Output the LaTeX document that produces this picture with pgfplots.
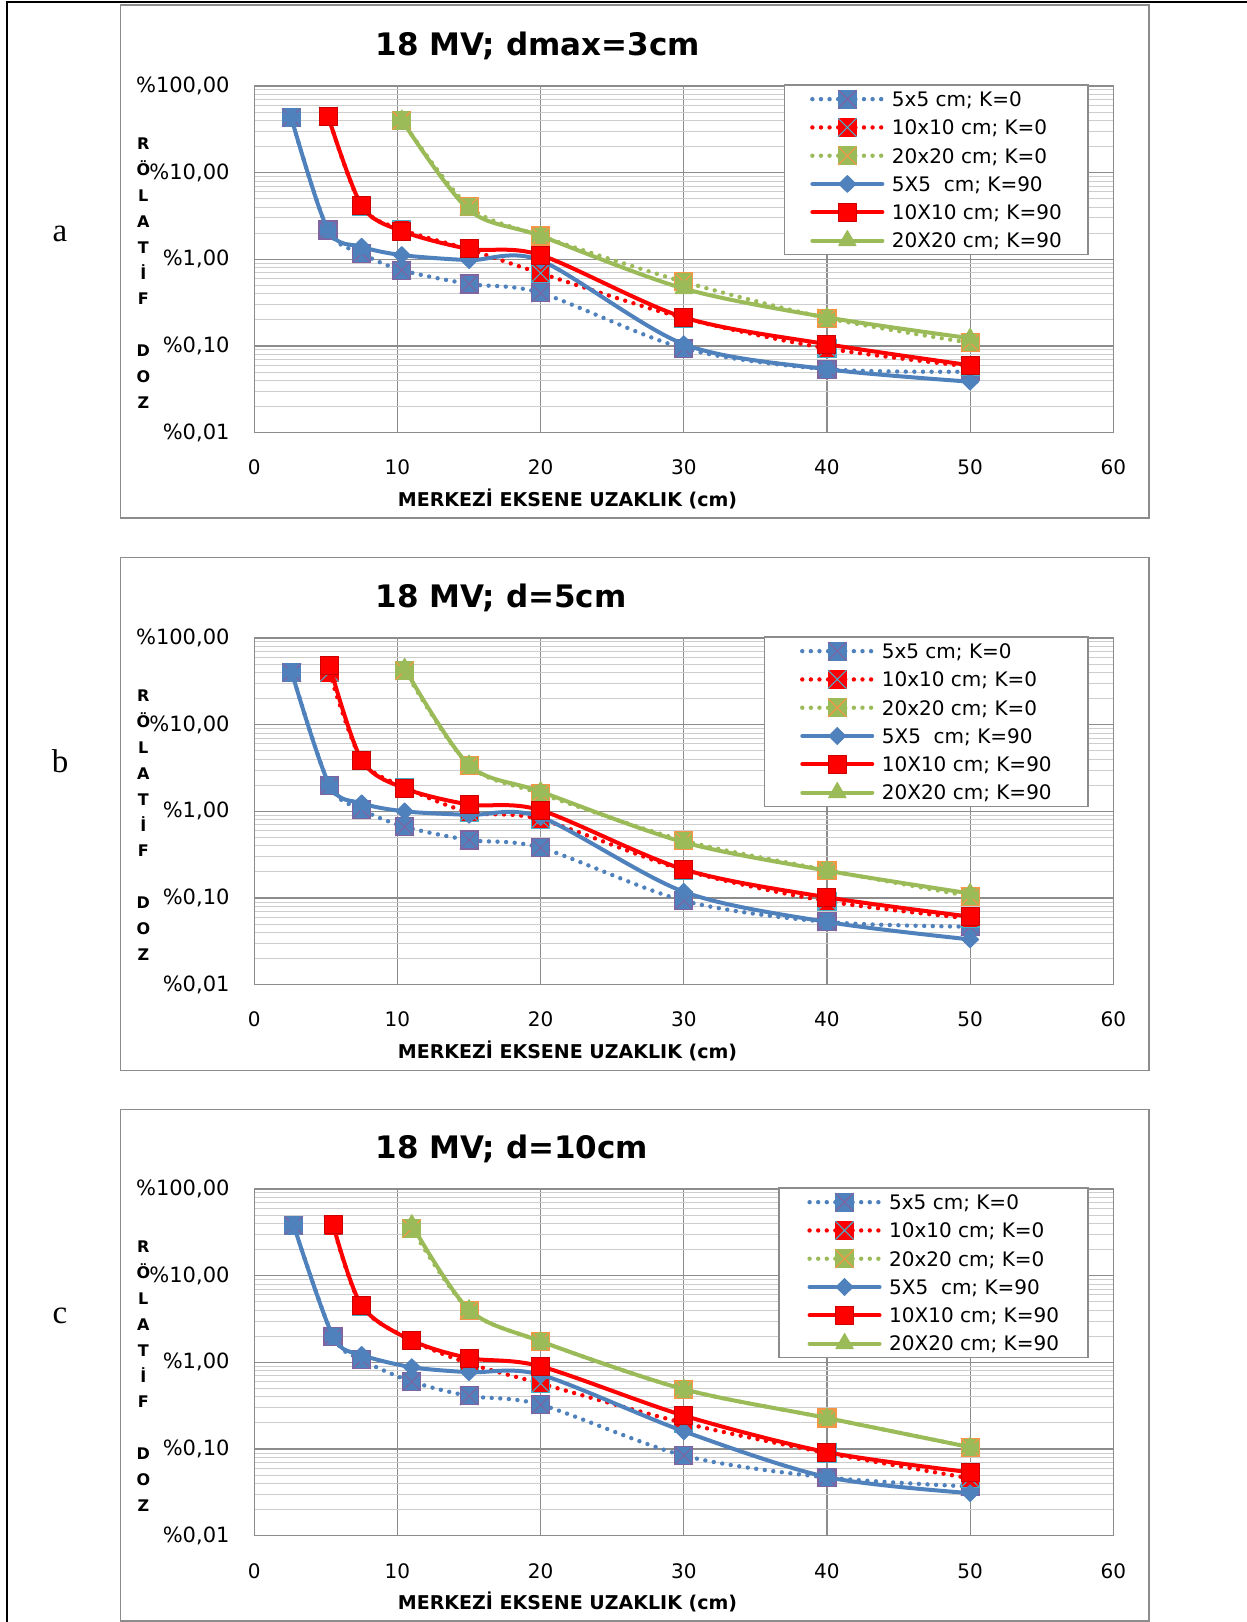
\documentclass[border=0pt]{standalone}
\usepackage{fontspec}
\setmainfont{DejaVu Sans}
\newfontfamily\serifa{Liberation Serif}
\usepackage{pgfplots}
\pgfplotsset{compat=1.18}

\definecolor{cB}{HTML}{4F81BD}
\definecolor{cR}{HTML}{FF0000}
\definecolor{cG}{HTML}{9BBB59}
\definecolor{xB}{HTML}{8064A2}
\definecolor{xR}{HTML}{4BACC6}
\definecolor{xG}{HTML}{F79646}
\definecolor{gridmaj}{HTML}{8C8C8C}
\definecolor{gridmin}{HTML}{CDCDCD}

\newcommand\defsqx[2]{%
 \pgfdeclareplotmark{#1}{%
  \pgfpathrectangle{\pgfpoint{-\pgfplotmarksize}{-\pgfplotmarksize}}{\pgfpoint{2\pgfplotmarksize}{2\pgfplotmarksize}}%
  \pgfusepathqfillstroke
  \pgfsetstrokecolor{#2}%
  \pgfsetlinewidth{0.55pt}%
  \pgfpathmoveto{\pgfpoint{-\pgfplotmarksize}{-\pgfplotmarksize}}%
  \pgfpathlineto{\pgfpoint{\pgfplotmarksize}{\pgfplotmarksize}}%
  \pgfpathmoveto{\pgfpoint{-\pgfplotmarksize}{\pgfplotmarksize}}%
  \pgfpathlineto{\pgfpoint{\pgfplotmarksize}{-\pgfplotmarksize}}%
  \pgfusepathqstroke}}
\defsqx{sqxB}{xB}
\defsqx{sqxR}{xR}
\defsqx{sqxG}{xG}

\pgfplotsset{
 kz/.style={line width=2.2pt, dash pattern=on 0pt off 4.3pt, line cap=round, smooth, mark size=4.5pt},
 kn/.style={line width=2pt, smooth, line cap=round, line join=round},
 s0B/.style={kz, color=cB, mark=sqxB, mark options={solid, line width=0.5pt, fill=cB, draw=cB}},
 s0R/.style={kz, color=cR, mark=sqxR, mark options={solid, line width=0.5pt, fill=cR, draw=cR}},
 s0G/.style={kz, color=cG, mark=sqxG, mark options={solid, line width=0.5pt, fill=cG, draw=cG}},
 s9B/.style={kn, color=cB, mark=diamond*, mark size=4.2pt, mark options={solid, xscale=1.35, line width=0.5pt, fill=cB, draw=cB}},
 s9R/.style={kn, color=cR, mark=square*, mark size=4.5pt, mark options={solid, line width=0.5pt, fill=cR, draw=cR!80!black}},
 s9G/.style={kn, color=cG, mark=triangle*, mark size=5pt, mark options={solid, line width=0.5pt, fill=cG, draw=cG}},
 myPanel/.style={
  scale only axis, width=429.5pt, height=173.35pt,
  xmin=0, xmax=60, xtick={0,10,...,60},
  ymin=0.01, ymax=100, ytick={0.01,0.1,1,10,100},
  yticklabels={{\%0,01},{\%0,10},{\%1,00},{\%10,00},{\%100,00}},
  xmajorgrids, ymajorgrids, yminorgrids,
  major grid style={gridmaj, line width=0.6pt},
  minor grid style={gridmin, line width=0.5pt},
  axis line style={gridmaj, line width=0.75pt},
  major tick length=0pt, minor tick length=0pt,
  tick label style={font=\fontsize{10}{12}\selectfont, inner sep=0pt},
  xticklabel style={anchor=center, yshift=-17.5pt},
  yticklabel style={anchor=east, xshift=-12.2pt, font=\fontsize{10.5}{12}\selectfont},
  clip mode=individual,
  xlabel={MERKEZİ EKSENE UZAKLIK (cm)},
  xlabel style={at={(axis description cs:0.3646,-0.190)}, anchor=center, font=\bfseries\fontsize{9.5}{11}\selectfont},
  ylabel={R\\Ö\\L\\A\\T\\İ\\F\\[12.95pt]D\\O\\Z},
  every axis y label/.style={at={(axis description cs:-0.1292,0.46)}, anchor=center, align=center, font=\bfseries\fontsize{8}{12.95}\selectfont},
  title style={at={(axis description cs:0.1329,1.054)}, anchor=base west, font=\bfseries\fontsize{15.5}{18}\selectfont},
  legend style={at={(axis description cs:0.9717,1.005)}, anchor=north east, draw=gridmaj, line width=0.75pt, fill=white, inner ysep=0pt, font=\fontsize{10}{12}\selectfont, nodes={text height=8.72pt, text depth=1.42pt, inner xsep=3.7pt, inner ysep=2pt}, row sep=0pt},
  legend cell align=left,
  legend image code/.code={\path (0pt,0pt); \draw[mark repeat=2,mark phase=2,##1] plot coordinates {(3.3pt,0pt)(20.8pt,0pt)(38.3pt,0pt)};},
 }
}

\begin{document}
\begin{tikzpicture}
\path[use as bounding box] (0pt,0pt) rectangle (623.5pt,-811pt);
\draw[black, line width=0.9pt] (3.65pt,-811pt) -- (3.65pt,-0.9pt) -- (623.5pt,-0.9pt);
\draw[gridmaj, line width=0.75pt] (60.35pt,-2.5pt) rectangle (574.5pt,-259pt);
\draw[gridmaj, line width=0.75pt] (60.35pt,-278.75pt) rectangle (574.5pt,-535.25pt);
\draw[gridmaj, line width=0.75pt] (60.35pt,-554.75pt) rectangle (574.5pt,-810.6pt);
\node[font=\serifa\fontsize{16.5}{18}\selectfont] at (30pt,-117pt) {a};
\node[font=\serifa\fontsize{16.5}{18}\selectfont] at (30pt,-380.5pt) {b};
\node[font=\serifa\fontsize{16.5}{18}\selectfont] at (30pt,-658pt) {c};

% ---------------- panel a ----------------
\begin{axis}[ymode=log, /pgf/number format/assume math mode=true, myPanel, at={(127.15pt,-216.35pt)}, anchor=south west, title={18 MV; dmax=3cm}, legend style={inner xsep=9.5pt}]
\addplot[s0B] coordinates {(2.575,43) (5.15,2.18) (7.5,1.17) (10.3,0.75) (15,0.52) (20,0.41) (30,0.094) (40,0.054) (50,0.0506)};
\addlegendentry{5x5 cm; K=0}
\addplot[s0R] coordinates {(5.15,45) (7.5,4.1) (10.3,2.2) (15,1.3) (20,0.69) (30,0.21) (40,0.094) (50,0.058)};
\addlegendentry{10x10 cm; K=0}
\addplot[s0G] coordinates {(10.3,40) (15,4.05) (20,1.86) (30,0.55) (40,0.21) (50,0.109)};
\addlegendentry{20x20 cm; K=0}
\addplot[s9B] coordinates {(2.575,43.5) (5.15,2.18) (7.5,1.40) (10.3,1.12) (15,0.98) (20,0.97) (30,0.105) (40,0.054) (50,0.0388)};
\addlegendentry{5X5\ \ cm; K=90}
\addplot[s9R] coordinates {(5.15,45) (7.5,4.16) (10.3,2.12) (15,1.32) (20,1.12) (30,0.214) (40,0.105) (50,0.060)};
\addlegendentry{10X10 cm; K=90}
\addplot[s9G] coordinates {(10.3,40.5) (15,3.71) (20,1.86) (30,0.46) (40,0.214) (50,0.123)};
\addlegendentry{20X20 cm; K=90}
\end{axis}

% ---------------- panel b ----------------
\begin{axis}[ymode=log, /pgf/number format/assume math mode=true, myPanel, at={(127.15pt,-492.35pt)}, anchor=south west, title={18 MV; d=5cm}, legend style={inner xsep=14.55pt}]
\addplot[s0B] coordinates {(2.625,39.8) (5.25,2.0) (7.5,1.05) (10.5,0.665) (15,0.467) (20,0.381) (30,0.093) (40,0.053) (50,0.0467)};
\addlegendentry{5x5 cm; K=0}
\addplot[s0R] coordinates {(5.25,40) (7.5,3.9) (10.5,1.9) (15,0.98) (20,0.81) (30,0.21) (40,0.092) (50,0.058)};
\addlegendentry{10x10 cm; K=0}
\addplot[s0G] coordinates {(10.5,42) (15,3.4) (20,1.6) (30,0.46) (40,0.21) (50,0.105)};
\addlegendentry{20x20 cm; K=0}
\addplot[s9B] coordinates {(2.625,39.8) (5.25,2.01) (7.5,1.24) (10.5,1.0) (15,0.91) (20,0.86) (30,0.118) (40,0.053) (50,0.0333)};
\addlegendentry{5X5\ \ cm; K=90}
\addplot[s9R] coordinates {(5.25,48.7) (7.5,3.91) (10.5,1.84) (15,1.2) (20,1.03) (30,0.214) (40,0.102) (50,0.061)};
\addlegendentry{10X10 cm; K=90}
\addplot[s9G] coordinates {(10.5,44.7) (15,3.43) (20,1.69) (30,0.44) (40,0.207) (50,0.113)};
\addlegendentry{20X20 cm; K=90}
\end{axis}

% ---------------- panel c ----------------
\begin{axis}[ymode=log, /pgf/number format/assume math mode=true, myPanel, at={(127.15pt,-767.85pt)}, anchor=south west, title={18 MV; d=10cm}, legend style={inner xsep=10.9pt}]
\addplot[s0B] coordinates {(2.75,38) (5.5,2.0) (7.5,1.07) (11,0.60) (15,0.41) (20,0.325) (30,0.084) (40,0.047) (50,0.037)};
\addlegendentry{5x5 cm; K=0}
\addplot[s0R] coordinates {(5.5,38) (7.5,4.4) (11,1.8) (15,0.97) (20,0.57) (30,0.2) (40,0.09) (50,0.046)};
\addlegendentry{10x10 cm; K=0}
\addplot[s0G] coordinates {(11,35) (15,4.0) (20,1.75) (30,0.49) (40,0.228) (50,0.105)};
\addlegendentry{20x20 cm; K=0}
\addplot[s9B] coordinates {(2.75,38.1) (5.5,2.0) (7.5,1.22) (11,0.88) (15,0.77) (20,0.72) (30,0.16) (40,0.0475) (50,0.031)};
\addlegendentry{5X5\ \ cm; K=90}
\addplot[s9R] coordinates {(5.5,38.8) (7.5,4.5) (11,1.79) (15,1.12) (20,0.90) (30,0.243) (40,0.092) (50,0.054)};
\addlegendentry{10X10 cm; K=90}
\addplot[s9G] coordinates {(11,38.8) (15,4.05) (20,1.75) (30,0.49) (40,0.228) (50,0.105)};
\addlegendentry{20X20 cm; K=90}
\end{axis}
\end{tikzpicture}
\end{document}
